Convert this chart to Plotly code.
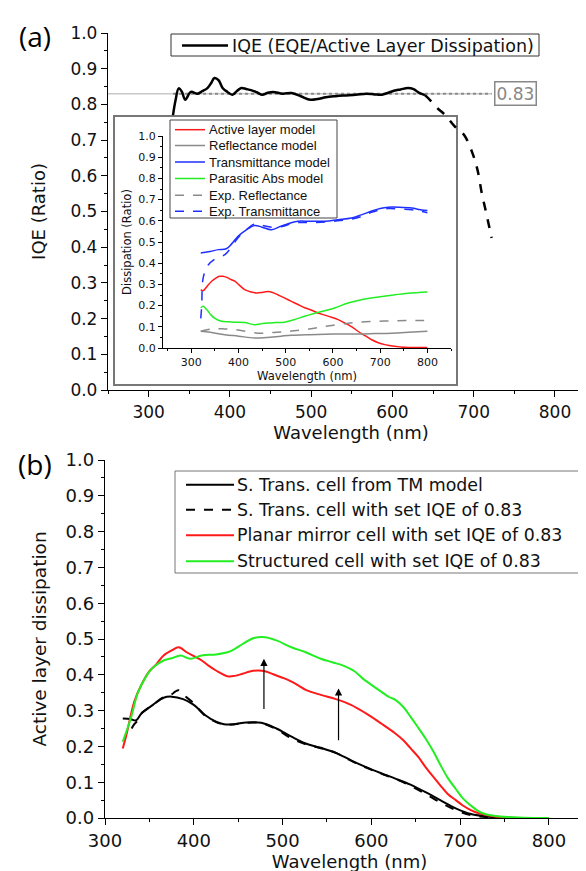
import plotly.graph_objects as go

W, H = 586, 871

# ---------------- Panel (a): IQE ----------------
iqe_wl_solid = [330, 333, 337, 341, 345, 352, 360, 366, 372, 377, 381, 386, 391, 397, 403, 409, 414,
                420, 426, 433, 440, 446, 453, 465, 476, 488, 499, 508, 518, 530, 541, 555, 568, 578,
                587, 594, 600, 610, 619, 626, 633, 640]
iqe_val_solid = [0.77, 0.81, 0.845, 0.835, 0.813, 0.835, 0.83, 0.837, 0.845, 0.86, 0.874, 0.868, 0.846,
                 0.835, 0.827, 0.838, 0.846, 0.843, 0.84, 0.834, 0.827, 0.832, 0.835, 0.83, 0.832, 0.822,
                 0.813, 0.815, 0.82, 0.823, 0.825, 0.827, 0.83, 0.828, 0.827, 0.832, 0.837, 0.842, 0.846,
                 0.843, 0.832, 0.826]
iqe_wl_dash = [640, 646, 655, 665, 676, 688, 699, 705, 710, 715, 722]
iqe_val_dash = [0.826, 0.813, 0.79, 0.77, 0.74, 0.715, 0.66, 0.613, 0.55, 0.50, 0.426]
set_iqe = 0.83
set_iqe_label = "0.83"
legend_a = ["IQE (EQE/Active Layer Dissipation)"]

# ---------------- Inset: dissipation ----------------
active_wl = [320, 325, 333, 343, 352, 360, 367, 375, 385, 392, 400, 413, 425, 438, 450, 462, 472, 484,
             498, 512, 526, 540, 555, 568, 583, 597, 611, 625, 640, 653, 668, 682, 696, 710, 730, 752,
             775, 800]
active_val = [0.275, 0.27, 0.29, 0.315, 0.33, 0.338, 0.338, 0.333, 0.322, 0.315, 0.3, 0.275, 0.265,
              0.26, 0.262, 0.266, 0.262, 0.25, 0.235, 0.22, 0.205, 0.19, 0.178, 0.165, 0.155, 0.145,
              0.134, 0.118, 0.1, 0.079, 0.058, 0.039, 0.025, 0.016, 0.008, 0.003, 0.002, 0.002]
refl_wl = [320, 340, 371, 400, 434, 460, 490, 512, 550, 583, 620, 653, 690, 724, 760, 800]
refl_val = [0.079, 0.074, 0.063, 0.056, 0.047, 0.05, 0.056, 0.06, 0.063, 0.065, 0.066, 0.066, 0.068,
            0.07, 0.074, 0.079]
trans_wl = [320, 325, 340, 357, 374, 385, 399, 415, 434, 450, 470, 490, 510, 526, 550, 583, 610, 639,
            660, 681, 700, 717, 740, 767, 785, 800]
trans_val = [0.448, 0.45, 0.455, 0.464, 0.468, 0.49, 0.527, 0.555, 0.578, 0.57, 0.558, 0.575, 0.59,
             0.598, 0.598, 0.598, 0.605, 0.613, 0.628, 0.645, 0.658, 0.664, 0.664, 0.66, 0.652, 0.648]
para_wl = [320, 325, 333, 342, 350, 364, 380, 392, 413, 434, 450, 462, 480, 497, 520, 540, 560, 583,
           605, 632, 667, 700, 724, 760, 800]
para_val = [0.19, 0.197, 0.18, 0.155, 0.14, 0.126, 0.124, 0.122, 0.12, 0.11, 0.115, 0.118, 0.12, 0.122,
            0.135, 0.15, 0.163, 0.176, 0.19, 0.212, 0.231, 0.242, 0.249, 0.258, 0.264]
exp_refl_wl = [320, 343, 370, 399, 441, 480, 512, 550, 583, 620, 653, 690, 724, 760, 800]
exp_refl_val = [0.079, 0.09, 0.09, 0.085, 0.07, 0.074, 0.08, 0.09, 0.102, 0.113, 0.122, 0.126, 0.128,
                0.13, 0.13]
exp_trans_wl = [320, 322, 325, 335, 350, 371, 378, 399, 415, 434, 450, 470, 490, 510, 526, 550, 583,
                610, 639, 660, 681, 700, 717, 740, 767, 785, 800]
exp_trans_val = [0.14, 0.2, 0.33, 0.39, 0.42, 0.44, 0.456, 0.52, 0.555, 0.585, 0.578, 0.57, 0.572,
                 0.585, 0.592, 0.592, 0.594, 0.6, 0.608, 0.62, 0.64, 0.652, 0.658, 0.656, 0.652, 0.645,
                 0.638]
inset_names = ["Active layer model", "Reflectance model", "Transmittance model", "Parasitic Abs model",
               "Exp. Reflectance", "Exp. Transmittance"]

# ---------------- Panel (b): active layer dissipation ----------------
tm_wl = [320, 329, 335, 341, 354, 366, 375, 388, 400, 413, 425, 434, 446, 459, 476, 493, 510, 526, 543,
         560, 577, 594, 611, 627, 644, 661, 678, 695, 712, 728, 745, 770, 800]
tm_val = [0.278, 0.276, 0.273, 0.292, 0.316, 0.336, 0.339, 0.332, 0.316, 0.287, 0.269, 0.262, 0.262,
          0.267, 0.266, 0.25, 0.227, 0.208, 0.196, 0.182, 0.161, 0.142, 0.125, 0.11, 0.093, 0.072, 0.049,
          0.027, 0.011, 0.005, 0.001, 0.0, 0.0]
setq_wl = [330, 333, 337, 341, 354, 366, 375, 379, 383, 388, 400, 413, 425, 434, 446, 459, 476, 493,
           510, 526, 543, 560, 577, 594, 611, 627, 644, 661, 678, 695, 712, 728, 745, 770, 800]
setq_val = [0.25, 0.262, 0.273, 0.292, 0.316, 0.338, 0.345, 0.353, 0.357, 0.345, 0.32, 0.285, 0.268,
            0.262, 0.262, 0.266, 0.265, 0.248, 0.222, 0.206, 0.195, 0.182, 0.16, 0.141, 0.124, 0.109,
            0.09, 0.067, 0.043, 0.022, 0.008, 0.003, 0.0, 0.0, 0.0]
mirror_wl = [320, 324, 333, 341, 350, 358, 366, 375, 383, 392, 400, 409, 417, 425, 438, 446, 455, 463,
             472, 480, 487, 493, 502, 510, 518, 526, 543, 560, 577, 594, 611, 627, 636, 644, 653, 661,
             670, 678, 686, 695, 703, 712, 720, 737, 758, 780, 800]
mirror_val = [0.194, 0.231, 0.325, 0.372, 0.41, 0.43, 0.454, 0.468, 0.477, 0.463, 0.452, 0.44, 0.425,
              0.412, 0.396, 0.397, 0.403, 0.409, 0.412, 0.41, 0.404, 0.398, 0.39, 0.381, 0.37, 0.358,
              0.344, 0.332, 0.316, 0.292, 0.264, 0.236, 0.217, 0.195, 0.17, 0.142, 0.114, 0.09, 0.067,
              0.05, 0.035, 0.022, 0.014, 0.005, 0.001, 0.0, 0.0]
struct_wl = [320, 329, 337, 345, 352, 358, 366, 375, 385, 396, 409, 425, 438, 446, 455, 467, 480, 493,
             510, 526, 543, 556, 569, 581, 590, 600, 611, 620, 627, 636, 644, 652, 661, 670, 678, 686,
             695, 703, 712, 720, 728, 745, 771, 800]
struct_val = [0.213, 0.278, 0.35, 0.39, 0.415, 0.428, 0.44, 0.446, 0.454, 0.445, 0.454, 0.457, 0.463,
              0.472, 0.486, 0.502, 0.505, 0.496, 0.477, 0.463, 0.445, 0.435, 0.425, 0.41, 0.39, 0.372,
              0.353, 0.338, 0.33, 0.31, 0.283, 0.255, 0.222, 0.185, 0.147, 0.112, 0.081, 0.055, 0.035,
              0.02, 0.011, 0.004, 0.001, 0.0]
panel_b_names = ["S. Trans. cell from TM model", "S. Trans. cell with set IQE of 0.83",
                 "Planar mirror cell with set IQE of 0.83", "Structured cell with set IQE of 0.83"]
arrow_wl = [479, 563]
arrow_from = [0.30, 0.213]
arrow_to = [0.445, 0.362]

RED = "#ff1a1a"
GREEN = "#22ee22"
BLUE = "#1f2fff"
GRAY = "#8a8a8a"
FONT = "DejaVu Sans"


def px(x):
    return x / W


def py(y):
    return 1 - y / H


fig = go.Figure()

# Panel (a) main
fig.add_trace(go.Scatter(x=[250, 722], y=[set_iqe, set_iqe], mode="lines",
                         line=dict(color="#c8c8c8", width=1.5), showlegend=False, xaxis="x", yaxis="y"))
fig.add_trace(go.Scatter(x=[330, 722], y=[set_iqe, set_iqe], mode="lines",
                         line=dict(color="#8c8c8c", width=2, dash="dot"), showlegend=False,
                         xaxis="x", yaxis="y"))
fig.add_trace(go.Scatter(x=iqe_wl_solid, y=iqe_val_solid, mode="lines", name=legend_a[0],
                         line=dict(color="black", width=2.5, shape="spline"), showlegend=False,
                         xaxis="x", yaxis="y"))
fig.add_trace(go.Scatter(x=iqe_wl_dash, y=iqe_val_dash, mode="lines", showlegend=False,
                         line=dict(color="black", width=2.5, dash="dash", shape="spline"),
                         xaxis="x", yaxis="y"))

# Inset
inset_series = [
    (active_wl, active_val, RED, "solid"),
    (refl_wl, refl_val, GRAY, "solid"),
    (trans_wl, trans_val, BLUE, "solid"),
    (para_wl, para_val, GREEN, "solid"),
    (exp_refl_wl, exp_refl_val, GRAY, "dash"),
    (exp_trans_wl, exp_trans_val, BLUE, "dash"),
]
for name, (xs, ys, col, dsh) in zip(inset_names, inset_series):
    fig.add_trace(go.Scatter(x=xs, y=ys, mode="lines", name=name, showlegend=False,
                             line=dict(color=col, width=1.5, dash=dsh, shape="spline"),
                             xaxis="x2", yaxis="y2"))

# Panel (b)
b_series = [
    (tm_wl, tm_val, "black", "solid"),
    (setq_wl, setq_val, "black", "dash"),
    (mirror_wl, mirror_val, RED, "solid"),
    (struct_wl, struct_val, GREEN, "solid"),
]
for name, (xs, ys, col, dsh) in zip(panel_b_names, b_series):
    fig.add_trace(go.Scatter(x=xs, y=ys, mode="lines", name=name, showlegend=False,
                             line=dict(color=col, width=2, dash=dsh, shape="spline"),
                             xaxis="x3", yaxis="y3"))


def ax(domain, rng, dtick, mdtick, size, anchor, ticklen=6, title=None, tsize=18, standoff=6, fmt=None):
    d = dict(domain=domain, range=rng, anchor=anchor, showgrid=False, zeroline=False, showline=True,
             linecolor="black", linewidth=1.3, ticks="outside", ticklen=ticklen, tickwidth=1.3,
             tickcolor="black", dtick=dtick, tick0=0, tickfont=dict(family=FONT, size=size, color="#111"),
             minor=dict(ticks="outside", ticklen=ticklen / 2, tickwidth=1, tickcolor="black", dtick=mdtick),
             automargin=False, fixedrange=True)
    if fmt:
        d["tickformat"] = fmt
    if title:
        d["title"] = dict(text=title, font=dict(family=FONT, size=tsize, color="#111"), standoff=standoff)
    return d


shapes = [dict(type="rect", xref="paper", yref="paper", x0=px(106), x1=px(449),
               y0=py(377), y1=py(108), line=dict(color="#777", width=2),
               fillcolor="white", layer="below")]
annotations = [
    dict(text="(a)", x=px(27), y=py(28), xref="paper", yref="paper", showarrow=False,
         xanchor="center", yanchor="middle", font=dict(family="Open Sans", size=28, color="black")),
    dict(text="(b)", x=px(27), y=py(456), xref="paper", yref="paper", showarrow=False,
         xanchor="center", yanchor="middle", font=dict(family="Open Sans", size=28, color="black")),
    dict(text=set_iqe_label, x=752, y=set_iqe, xref="x", yref="y", showarrow=False,
         font=dict(family=FONT, size=17, color="#888"), bordercolor="#888", borderwidth=1.5,
         borderpad=1, bgcolor="white"),
]


def add_legend(box, names, styles, line_x, text_x, ys, font, bcolor="#333", lw=2):
    shapes.append(dict(type="rect", xref="paper", yref="paper", x0=px(box[0]), x1=px(box[1]),
                       y0=py(box[3]), y1=py(box[2]), line=dict(color=bcolor, width=1),
                       fillcolor="white", layer="above"))
    for name, (col, dsh), yy in zip(names, styles, ys):
        shapes.append(dict(type="line", xref="paper", yref="paper", x0=px(line_x[0]), x1=px(line_x[1]),
                           y0=py(yy), y1=py(yy), line=dict(color=col, width=lw, dash=dsh),
                           layer="above"))
        annotations.append(dict(text=name, x=px(text_x), y=py(yy), xref="paper", yref="paper",
                                xanchor="left", yanchor="middle", showarrow=False, font=font))


add_legend((163, 531, 26, 48), legend_a, [("black", "solid")], (174, 220), 222, [37.5],
           dict(family=FONT, size=17.5, color="#111"), lw=2.5)
add_legend((162, 329, 112, 210), inset_names, [(c, d) for (_, _, c, d) in inset_series], (167, 197),
           199, [121.7, 137.5, 154, 170.5, 187.2, 203.3],
           dict(family="Liberation Sans", size=13, color="#111"), bcolor="#444", lw=1.5)
add_legend((167, 583, 463, 565), panel_b_names, [(c, d) for (_, _, c, d) in b_series], (178, 226),
           227, [476.7, 501.7, 527.3, 553.3], dict(family=FONT, size=17.4, color="#111"),
           bcolor="#777", lw=2)

for xw, y0, y1 in zip(arrow_wl, arrow_from, arrow_to):
    annotations.append(dict(x=xw, y=y1, ax=xw, ay=y0, xref="x3", yref="y3", axref="x3",
                            ayref="y3", showarrow=True, arrowhead=2, arrowsize=1.2,
                            arrowwidth=1.2, arrowcolor="black", text=""))

fig.update_layout(
    width=W, height=H, margin=dict(l=0, r=0, t=0, b=0),
    paper_bgcolor="white", plot_bgcolor="rgba(0,0,0,0)", showlegend=False,
    xaxis=ax([px(100), 1], [250, 848], 100, 50, 17, "y", title="Wavelength (nm)", standoff=5),
    yaxis=ax([py(382), py(25)], [0, 1], 0.1, 0.05, 17, "x", title="IQE (Ratio)", fmt=".1f", standoff=20),
    xaxis2=ax([px(155), px(443)], [240, 850], 100, 50, 11, "y2", ticklen=4, title="Wavelength (nm)",
              tsize=11.6, standoff=1),
    yaxis2=ax([py(340), py(128)], [0, 1], 0.1, 0.05, 11, "x2", ticklen=4, title="Dissipation (Ratio)",
              tsize=11.5, fmt=".1f", standoff=4),
    xaxis3=ax([px(97), 1], [300, 850.7], 100, 50, 18, "y3", title="Wavelength (nm)", tsize=18,
              standoff=1),
    yaxis3=ax([py(810), py(452)], [0, 1], 0.1, 0.05, 18, "x3", title="Active layer dissipation",
              tsize=18.5, fmt=".1f", standoff=14),
    shapes=shapes,
    annotations=annotations,
)
fig.write_html("out.html")
